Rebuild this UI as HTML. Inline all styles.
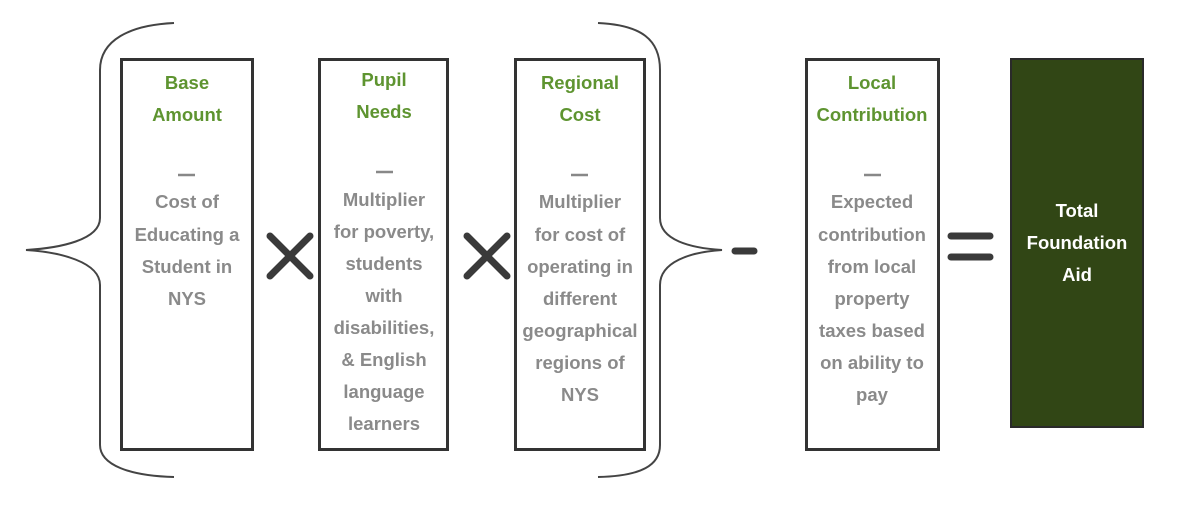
<!DOCTYPE html>
<html><head><meta charset="utf-8"><style>
body{margin:0;width:1200px;height:511px;background:#fff;position:relative;overflow:hidden;font-family:"Liberation Sans",sans-serif;font-weight:bold}
.box{position:absolute;border:3px solid #333;box-sizing:border-box}
.t{position:absolute;width:200px;text-align:center;font-size:18.5px;line-height:20px;white-space:nowrap}
.g{color:#5e9430}.k{color:#8a8a8a}.w{color:#fff}
</style></head><body>
<svg width="1200" height="511" style="position:absolute;left:0;top:0">
<g fill="none" stroke="#444" stroke-width="2">
<path d="M174 23 C130 25 100 40 100 70 L100 218 C100 240 60 248 26 250 C60 252 100 262 100 285 L100 445 C100 465 130 476 174 477"/>
<path d="M598 23 C642 25 660 40 660 70 L660 218 C660 240 690 248 722 250 C690 252 660 262 660 285 L660 445 C660 465 642 476 598 477"/>
</g>
<g stroke="#3a3a3a" stroke-width="7" stroke-linecap="round">
<line x1="270" y1="236" x2="310" y2="276"/><line x1="310" y1="236" x2="270" y2="276"/>
<line x1="467" y1="236" x2="507" y2="276"/><line x1="507" y1="236" x2="467" y2="276"/>
<line x1="735" y1="251" x2="754" y2="251"/>
<line x1="951" y1="236" x2="990" y2="236"/><line x1="951" y1="257" x2="990" y2="257"/>
</g>
<g stroke="#888" stroke-width="2.5">
<line x1="178" y1="175" x2="195" y2="175"/>
<line x1="376" y1="172" x2="393" y2="172"/>
<line x1="571" y1="175" x2="588" y2="175"/>
<line x1="864" y1="175" x2="881" y2="175"/>
</g>
</svg>
<div class="box" style="left:120px;top:58px;width:134px;height:393px"></div>
<div class="box" style="left:318px;top:58px;width:131px;height:393px"></div>
<div class="box" style="left:514px;top:58px;width:132px;height:393px"></div>
<div class="box" style="left:805px;top:58px;width:135px;height:393px"></div>
<div style="position:absolute;left:1010px;top:58px;width:134px;height:370px;background:#314615;border:2px solid #2a2a2a;box-sizing:border-box"></div>

<div class="t g" style="left:87px;top:73px">Base</div>
<div class="t g" style="left:87px;top:105px">Amount</div>
<div class="t k" style="left:87px;top:192px">Cost of</div>
<div class="t k" style="left:87px;top:225px">Educating a</div>
<div class="t k" style="left:87px;top:257px">Student in</div>
<div class="t k" style="left:87px;top:289px">NYS</div>

<div class="t g" style="left:284px;top:70px">Pupil</div>
<div class="t g" style="left:284px;top:102px">Needs</div>
<div class="t k" style="left:284px;top:190px">Multiplier</div>
<div class="t k" style="left:284px;top:222px">for poverty,</div>
<div class="t k" style="left:284px;top:254px">students</div>
<div class="t k" style="left:284px;top:286px">with</div>
<div class="t k" style="left:284px;top:318px">disabilities,</div>
<div class="t k" style="left:284px;top:350px">&amp; English</div>
<div class="t k" style="left:284px;top:382px">language</div>
<div class="t k" style="left:284px;top:414px">learners</div>

<div class="t g" style="left:480px;top:73px">Regional</div>
<div class="t g" style="left:480px;top:105px">Cost</div>
<div class="t k" style="left:480px;top:192px">Multiplier</div>
<div class="t k" style="left:480px;top:225px">for cost of</div>
<div class="t k" style="left:480px;top:257px">operating in</div>
<div class="t k" style="left:480px;top:289px">different</div>
<div class="t k" style="left:480px;top:321px">geographical</div>
<div class="t k" style="left:480px;top:353px">regions of</div>
<div class="t k" style="left:480px;top:385px">NYS</div>

<div class="t g" style="left:772px;top:73px">Local</div>
<div class="t g" style="left:772px;top:105px">Contribution</div>
<div class="t k" style="left:772px;top:192px">Expected</div>
<div class="t k" style="left:772px;top:225px">contribution</div>
<div class="t k" style="left:772px;top:257px">from local</div>
<div class="t k" style="left:772px;top:289px">property</div>
<div class="t k" style="left:772px;top:321px">taxes based</div>
<div class="t k" style="left:772px;top:353px">on ability to</div>
<div class="t k" style="left:772px;top:385px">pay</div>

<div class="t w" style="left:977px;top:201px">Total</div>
<div class="t w" style="left:977px;top:233px">Foundation</div>
<div class="t w" style="left:977px;top:265px">Aid</div>
</body></html>
